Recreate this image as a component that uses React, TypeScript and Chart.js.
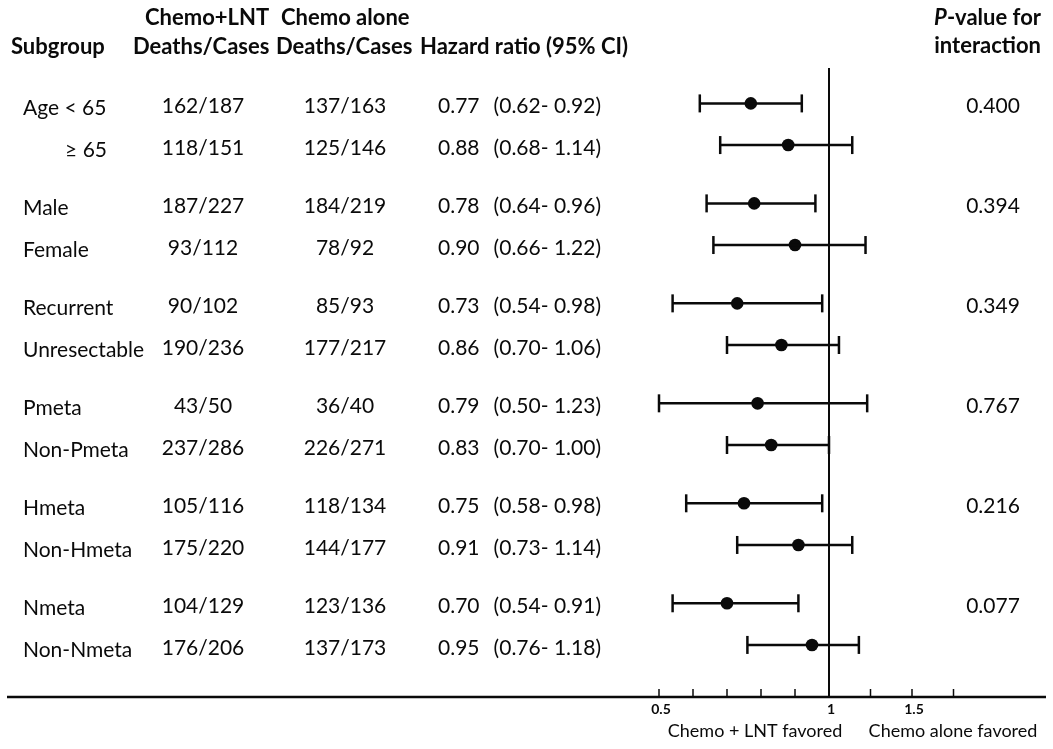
import React, { useEffect, useRef } from "react";
import { Chart, registerables, LinearScale } from "chart.js";

Chart.register(...registerables);

// ---------------- data ----------------
const subgroups = [
  "Age < 65", "≥ 65", "Male", "Female", "Recurrent", "Unresectable",
  "Pmeta", "Non-Pmeta", "Hmeta", "Non-Hmeta", "Nmeta", "Non-Nmeta",
];
const subgroupIndented = [false, true, false, false, false, false, false, false, false, false, false, false];
const groupOfRow = [0, 0, 1, 1, 2, 2, 3, 3, 4, 4, 5, 5];
const lntDeathsCases = [
  "162/187", "118/151", "187/227", "93/112", "90/102", "190/236",
  "43/50", "237/286", "105/116", "175/220", "104/129", "176/206",
];
const aloneDeathsCases = [
  "137/163", "125/146", "184/219", "78/92", "85/93", "177/217",
  "36/40", "226/271", "118/134", "144/177", "123/136", "137/173",
];
const hazardRatio = [0.77, 0.88, 0.78, 0.90, 0.73, 0.86, 0.79, 0.83, 0.75, 0.91, 0.70, 0.95];
const ciLower = [0.62, 0.68, 0.64, 0.66, 0.54, 0.70, 0.50, 0.70, 0.58, 0.73, 0.54, 0.76];
const ciUpper = [0.92, 1.14, 0.96, 1.22, 0.98, 1.06, 1.23, 1.00, 0.98, 1.14, 0.91, 1.18];
const pInteraction = ["0.400", "0.394", "0.349", "0.767", "0.216", "0.077"];
const axisTickValues = [0.5, 0.6, 0.7, 0.8, 0.9, 1, 1.25, 1.5, 1.75];
const axisTickLabels = ["0.5", "", "", "", "", "1", "", "1.5", ""];
const favoredLabels = ["Chemo + LNT favored", "Chemo alone favored"];

// --------------- layout helpers ---------------
const GROUP_PITCH = 2.4; // row units between first rows of successive groups
const rowPos = subgroups.map((_, i) => groupOfRow[i] * GROUP_PITCH + (i % 2));

const FONT = "Lato, 'Open Sans', sans-serif";
const INK = "#0a0a0a";

// Piecewise-linear axis: [min, breakAt] takes lowerFraction of the width.
class PiecewiseScale extends LinearScale {
  static id = "piecewise";
  static defaults = { ...(LinearScale as any).defaults };
  getPixelForValue(value: number) {
    const o: any = this.options;
    const brk = o.breakAt ?? 1;
    const frac = o.lowerFraction ?? 0.5;
    const min = this.min, max = this.max;
    const d = value <= brk
      ? ((value - min) / (brk - min)) * frac
      : frac + ((value - brk) / (max - brk)) * (1 - frac);
    return this.getPixelForDecimal(d);
  }
  getValueForPixel(pixel: number) {
    const o: any = this.options;
    const brk = o.breakAt ?? 1;
    const frac = o.lowerFraction ?? 0.5;
    const d = this.getDecimalForPixel(pixel);
    return d <= frac
      ? this.min + (d / frac) * (brk - this.min)
      : brk + ((d - frac) / (1 - frac)) * (this.max - brk);
  }
}
Chart.register(PiecewiseScale as any);

const tablePlugin = {
  id: "forestTable",
  beforeDatasetsDraw(chart: any) {
    const { ctx, chartArea, scales } = chart;
    const x1 = scales.x.getPixelForValue(1);
    ctx.save();
    ctx.strokeStyle = INK;
    ctx.lineWidth = 2;
    ctx.beginPath();
    ctx.moveTo(x1, chartArea.top);
    ctx.lineTo(x1, chartArea.bottom);
    ctx.stroke();
    ctx.restore();
  },
  afterDraw(chart: any) {
    const { ctx, chartArea, scales } = chart;
    const xs = scales.x, ys = scales.y;
    ctx.save();
    ctx.fillStyle = INK;
    ctx.textBaseline = "middle";

    // header
    const H = `bold 22px ${FONT}`;
    ctx.font = H;
    ctx.textAlign = "left";
    ctx.fillText("Subgroup", 11, 47);
    ctx.fillText("Chemo+LNT", 145, 18);
    ctx.fillText("Deaths/Cases", 133, 47);
    ctx.fillText("Chemo alone", 281, 18);
    ctx.fillText("Deaths/Cases", 276, 47);
    ctx.fillText("Hazard ratio (95% CI)", 420, 47);
    ctx.textAlign = "right";
    const restW = ctx.measureText("-value for").width;
    ctx.fillText("-value for", 1041, 18);
    ctx.font = `italic bold 22px ${FONT}`;
    ctx.fillText("P", 1041 - restW, 18);
    ctx.font = H;
    ctx.fillText("interaction", 1041, 46);

    // rows
    ctx.font = `21px ${FONT}`;
    subgroups.forEach((label, i) => {
      const y = ys.getPixelForValue(rowPos[i]);
      if (subgroupIndented[i]) {
        ctx.textAlign = "right";
        ctx.fillText(label, 107, y + 5);
      } else {
        ctx.textAlign = "left";
        ctx.fillText(label, 23, y + 5);
      }
      ctx.textAlign = "center";
      ctx.fillText(lntDeathsCases[i], 203, y + 3);
      ctx.fillText(aloneDeathsCases[i], 345, y + 3);
      ctx.textAlign = "left";
      ctx.fillText(hazardRatio[i].toFixed(2), 438, y + 3);
      ctx.textAlign = "right";
      ctx.fillText(`(${ciLower[i].toFixed(2)}- ${ciUpper[i].toFixed(2)})`, 601, y + 3);
    });
    ctx.textAlign = "center";
    pInteraction.forEach((p, g) => {
      const y = ys.getPixelForValue(g * GROUP_PITCH);
      ctx.fillText(p, 993, y + 3);
    });

    // axis line spanning the table
    const yb = chartArea.bottom;
    ctx.strokeStyle = INK;
    ctx.lineWidth = 2.5;
    ctx.beginPath();
    ctx.moveTo(7, yb);
    ctx.lineTo(1046, yb);
    ctx.stroke();

    // ticks and labels
    ctx.lineWidth = 1.5;
    ctx.font = `bold 14px ${FONT}`;
    axisTickValues.forEach((v, k) => {
      const x = xs.getPixelForValue(v);
      ctx.beginPath();
      ctx.moveTo(x, yb - 8);
      ctx.lineTo(x, yb);
      ctx.stroke();
      if (axisTickLabels[k]) {
        ctx.textAlign = "center";
        ctx.fillText(axisTickLabels[k], x + 2, yb + 12);
      }
    });

    ctx.font = `18px ${FONT}`;
    ctx.textAlign = "center";
    ctx.fillText(favoredLabels[0], 755, 731);
    ctx.fillText(favoredLabels[1], 953, 731);
    ctx.restore();
  },
};

export default function App() {
  const ref = useRef<HTMLCanvasElement | null>(null);
  useEffect(() => {
    if (!ref.current) return;
    const ciSegments: any[] = [];
    const caps: any[] = [];
    hazardRatio.forEach((_, i) => {
      ciSegments.push({ x: ciLower[i], y: rowPos[i] });
      ciSegments.push({ x: ciUpper[i], y: rowPos[i] });
      ciSegments.push({ x: ciUpper[i], y: null });
      caps.push({ x: ciLower[i], y: rowPos[i] });
      caps.push({ x: ciUpper[i], y: rowPos[i] });
    });
    const points = hazardRatio.map((hr, i) => ({ x: hr, y: rowPos[i] }));

    const chart = new Chart(ref.current, {
      type: "scatter",
      data: {
        datasets: [
          {
            type: "line",
            data: ciSegments,
            borderColor: INK,
            borderWidth: 2.5,
            pointRadius: 0,
            spanGaps: false,
            fill: false,
            clip: false,
          } as any,
          {
            data: caps,
            pointStyle: "line",
            rotation: 90,
            pointRadius: 9,
            borderColor: INK,
            borderWidth: 2.5,
            clip: false,
          } as any,
          {
            data: points,
            pointStyle: "circle",
            pointRadius: 6.3,
            backgroundColor: INK,
            borderColor: INK,
            borderWidth: 0,
            clip: false,
          } as any,
        ],
      },
      options: {
        animation: false,
        responsive: false,
        devicePixelRatio: 1,
        layout: { padding: { left: 659, right: 58, top: 68, bottom: 52 } },
        plugins: { legend: { display: false }, tooltip: { enabled: false } },
        events: [],
        scales: {
          x: {
            type: "piecewise" as any,
            min: 0.5,
            max: 2.0,
            breakAt: 1,
            lowerFraction: 170 / 336,
            display: false,
          } as any,
          y: {
            type: "linear",
            reverse: true,
            min: -0.85,
            max: 14.25,
            display: false,
          },
        },
      },
      plugins: [tablePlugin],
    });
    return () => chart.destroy();
  }, []);

  return (
    <div style={{ position: "absolute", left: 0, top: 0, width: 1053, height: 749, background: "#fff" }}>
      <canvas ref={ref} width={1053} height={749} />
    </div>
  );
}
